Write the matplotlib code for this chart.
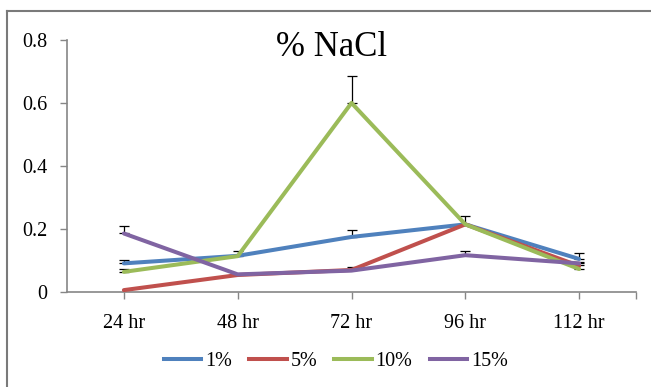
import matplotlib.pyplot as plt
import numpy as np
from matplotlib.lines import Line2D

# data
times = ["24 hr", "48 hr", "72 hr", "96 hr", "112 hr"]
series = ["1%", "5%", "10%", "15%"]

nacl_1 = [0.090, 0.114, 0.174, 0.214, 0.104]
nacl_5 = [0.005, 0.053, 0.069, 0.214, 0.082]
nacl_10 = [0.063, 0.113, 0.600, 0.214, 0.072]
nacl_15 = [0.185, 0.055, 0.067, 0.116, 0.090]

err_1 = [0.010, 0.016, 0.022, 0.027, 0.020]
err_5 = [0.000, 0.000, 0.008, 0.000, 0.000]
err_10 = [0.008, 0.000, 0.085, 0.000, 0.013]
err_15 = [0.023, 0.000, 0.000, 0.013, 0.004]

colors = ["#4F81BD", "#C0504D", "#9BBB59", "#8064A2"]

plt.rcParams["font.family"] = ["Liberation Serif", "DejaVu Serif"]

fig = plt.figure(figsize=(6.51, 3.87), dpi=100)
ax = fig.add_axes([0.1029, 0.2463, 0.8741, 0.6503])

x = np.arange(len(times))
values = [nacl_1, nacl_5, nacl_10, nacl_15]
errors = [err_1, err_5, err_10, err_15]

for vals, c, lab in zip(values, colors, series):
    ax.plot(x, vals, color=c, lw=2.9, label=lab, solid_capstyle="round", zorder=3)
for vals, errs in zip(values, errors):
    errs = np.array(errs)
    mask = errs > 0
    ax.errorbar(x[mask], np.array(vals)[mask], yerr=[np.zeros(mask.sum()), errs[mask]],
                fmt="none", ecolor="black", elinewidth=0.9, capsize=3.5, capthick=0.9,
                zorder=2)

ax.set_xlim(-0.5, 4.5)
ax.set_ylim(0, 0.8)
ax.set_yticks([0, 0.2, 0.4, 0.6, 0.8])
ax.set_yticklabels(["0", "0.2", "0.4", "0.6", "0.8"])
ax.set_xticks(list(x) + [4.5])
ax.set_xticklabels(times + [""])

for s in ["top", "right"]:
    ax.spines[s].set_visible(False)
for s in ["left", "bottom"]:
    ax.spines[s].set_color("#868686")
    ax.spines[s].set_linewidth(1.2)
ax.tick_params(axis="both", direction="out", length=5, color="#868686", width=1.0,
               labelsize=14.5)
ax.tick_params(axis="x", pad=11)
ax.tick_params(axis="y", pad=9)

fig.text(332 / 651, 1 - 47 / 387, "% NaCl", ha="center", va="center", fontsize=25)

handles = [Line2D([0], [0], color=c, lw=2.9) for c in colors]
fig.legend(handles, series, loc="center", bbox_to_anchor=(0.516, 1 - 361 / 387),
           ncol=4, frameon=False, fontsize=14.5, handlelength=1.85, handletextpad=0.2,
           columnspacing=0.85)

# outer chart frame (left and top edges visible)
fig.add_artist(Line2D([7 / 651, 7 / 651], [0, 1 - 11 / 387], transform=fig.transFigure,
                      color="#7a7a7a", lw=1.5))
fig.add_artist(Line2D([7 / 651, 1], [1 - 11 / 387, 1 - 11 / 387], transform=fig.transFigure,
                      color="#7a7a7a", lw=1.5))

plt.savefig("out.png", dpi=100)
